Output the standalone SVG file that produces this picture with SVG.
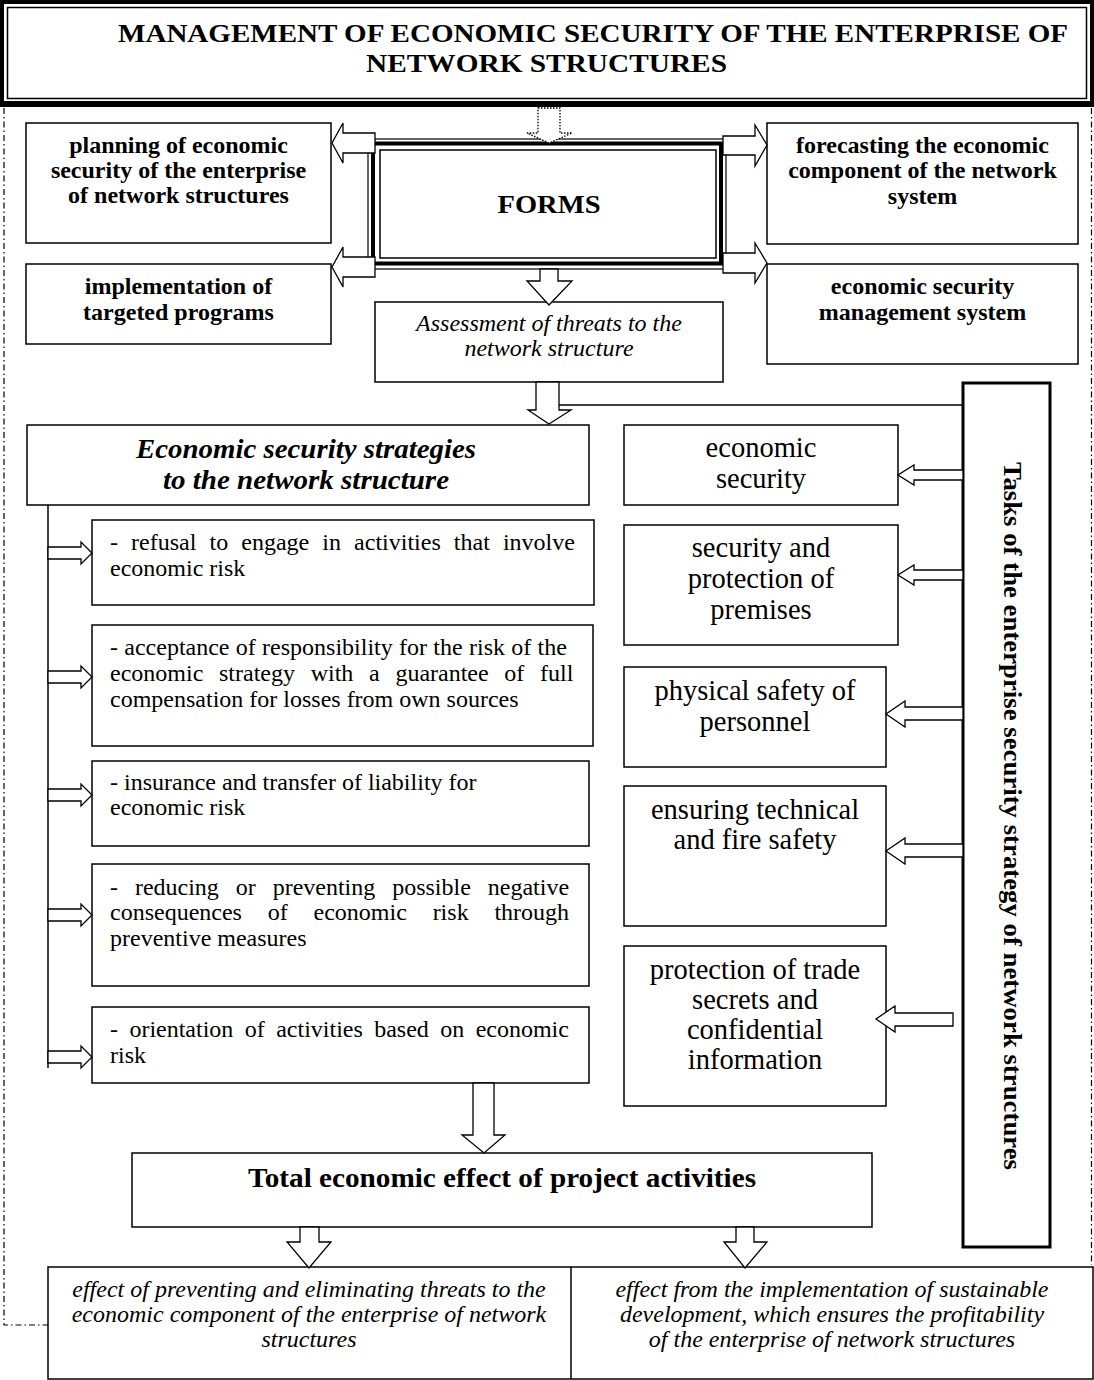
<svg xmlns="http://www.w3.org/2000/svg" width="1094" height="1380" viewBox="0 0 1094 1380">
<style>
text{font-family:"Liberation Serif","Times New Roman",serif;fill:#000}
.box{fill:#fff;stroke:#000;stroke-width:1.5}
.arr{fill:#fff;stroke:#000;stroke-width:1.3;stroke-linejoin:miter}
.b{font-weight:bold}
.i{font-style:italic}
.c{text-anchor:middle}
.hb{font-size:24px;font-weight:bold;text-anchor:middle}
.st{font-size:24px}
.tk{font-size:28.5px;text-anchor:middle}
.ef{font-size:24px;font-style:italic;text-anchor:middle}
.dash{fill:none;stroke:#000;stroke-width:1.2;stroke-dasharray:6 3 1.5 3}
</style>

<g id="frame">
<path class="dash" d="M4,108 V1325 H48"/>
<path class="dash" d="M1091.5,108 V1265"/>
</g>

<g id="title">
<rect x="0" y="0" width="1094" height="107" fill="#000"/>
<rect x="4" y="4" width="1086" height="97" fill="#fff"/>
<rect x="7.5" y="7.5" width="1079" height="91" fill="none" stroke="#000" stroke-width="1.5"/>
<text class="b" x="118" y="42" font-size="26" textLength="950" lengthAdjust="spacingAndGlyphs">MANAGEMENT OF ECONOMIC SECURITY OF THE ENTERPRISE OF</text>
<text class="b" x="366" y="72" font-size="26" textLength="361" lengthAdjust="spacingAndGlyphs">NETWORK STRUCTURES</text>
</g>

<g id="forms">
<rect x="368" y="139" width="358" height="130" fill="#fff" stroke="#000" stroke-width="1.2"/>
<rect x="373" y="143.5" width="348" height="120" fill="none" stroke="#000" stroke-width="4"/>
<rect x="380" y="150" width="336" height="108" fill="none" stroke="#000" stroke-width="1.5"/>
<text class="b c" x="549" y="213" font-size="26" textLength="103" lengthAdjust="spacingAndGlyphs">FORMS</text>
</g>

<g id="planning">
<rect class="box" x="26" y="123" width="305" height="120"/>
<text class="hb" x="178.5" y="153">planning of economic</text>
<text class="hb" x="178.5" y="178">security of the enterprise</text>
<text class="hb" x="178.5" y="203">of network structures</text>
</g>

<g id="implementation">
<rect class="box" x="26" y="264" width="305" height="80"/>
<text class="hb" x="178.5" y="294">implementation of</text>
<text class="hb" x="178.5" y="320">targeted programs</text>
</g>

<g id="forecasting">
<rect class="box" x="767" y="123" width="311" height="121"/>
<text class="hb" x="922.5" y="153">forecasting the economic</text>
<text class="hb" x="922.5" y="178">component of the network</text>
<text class="hb" x="922.5" y="204">system</text>
</g>

<g id="management-system">
<rect class="box" x="767" y="264" width="311" height="100"/>
<text class="hb" x="922.5" y="294">economic security</text>
<text class="hb" x="922.5" y="320">management system</text>
</g>

<g id="assessment">
<rect class="box" x="375" y="302" width="348" height="80"/>
<text class="i c" x="549" y="331" font-size="24">Assessment of threats to the</text>
<text class="i c" x="549" y="356" font-size="24">network structure</text>
</g>

<g id="strategies">
<rect class="box" x="27" y="425" width="562" height="80"/>
<text class="b i c" x="306" y="458" font-size="27" textLength="340" lengthAdjust="spacingAndGlyphs">Economic security strategies</text>
<text class="b i c" x="306" y="489" font-size="27" textLength="286" lengthAdjust="spacingAndGlyphs">to the network structure</text>
</g>

<g id="s1">
<rect class="box" x="92" y="520" width="502" height="85"/>
<text class="st" x="110" y="550" word-spacing="7.1">- refusal to engage in activities that involve</text>
<text class="st" x="110" y="576">economic risk</text>
</g>

<g id="s2">
<rect class="box" x="92" y="625" width="501" height="121"/>
<text class="st" x="110" y="655" word-spacing="0.3">- acceptance of responsibility for the risk of the</text>
<text class="st" x="110" y="681" word-spacing="9.7">economic strategy with a guarantee of full</text>
<text class="st" x="110" y="707">compensation for losses from own sources</text>
</g>

<g id="s3">
<rect class="box" x="92" y="761" width="497" height="85"/>
<text class="st" x="110" y="790">- insurance and transfer of liability for</text>
<text class="st" x="110" y="815">economic risk</text>
</g>

<g id="s4">
<rect class="box" x="92" y="864" width="497" height="122"/>
<text class="st" x="110" y="895" word-spacing="10.9">- reducing or preventing possible negative</text>
<text class="st" x="110" y="920" word-spacing="19.8">consequences of economic risk through</text>
<text class="st" x="110" y="946">preventive measures</text>
</g>

<g id="s5">
<rect class="box" x="92" y="1007" width="497" height="76"/>
<text class="st" x="110" y="1037" word-spacing="5.4">- orientation of activities based on economic</text>
<text class="st" x="110" y="1063">risk</text>
</g>

<g id="t1">
<rect class="box" x="624" y="425" width="274" height="80"/>
<text class="tk" x="761" y="457">economic</text>
<text class="tk" x="761" y="488">security</text>
</g>

<g id="t2">
<rect class="box" x="624" y="525" width="274" height="120"/>
<text class="tk" x="761" y="557">security and</text>
<text class="tk" x="761" y="588">protection of</text>
<text class="tk" x="761" y="619">premises</text>
</g>

<g id="t3">
<rect class="box" x="624" y="667" width="262" height="100"/>
<text class="tk" x="755" y="700">physical safety of</text>
<text class="tk" x="755" y="731">personnel</text>
</g>

<g id="t4">
<rect class="box" x="624" y="786" width="262" height="140"/>
<text class="tk" x="755" y="819">ensuring technical</text>
<text class="tk" x="755" y="849">and fire safety</text>
</g>

<g id="t5">
<rect class="box" x="624" y="946" width="262" height="160"/>
<text class="tk" x="755" y="979">protection of trade</text>
<text class="tk" x="755" y="1009">secrets and</text>
<text class="tk" x="755" y="1039">confidential</text>
<text class="tk" x="755" y="1069">information</text>
</g>

<g id="tasks">
<rect x="963" y="383" width="87" height="864" fill="#fff" stroke="#000" stroke-width="3"/>
<text class="b c" font-size="25" transform="translate(1004,816) rotate(90)" x="0" y="0" textLength="708" lengthAdjust="spacingAndGlyphs">Tasks of the enterprise security strategy of network structures</text>
</g>

<g id="total">
<rect class="box" x="132" y="1153" width="740" height="74"/>
<text class="b c" x="502" y="1187" font-size="27" textLength="508" lengthAdjust="spacingAndGlyphs">Total economic effect of project activities</text>
</g>

<g id="effects">
<rect class="box" x="48" y="1267" width="1045" height="112"/>
<line x1="571" y1="1267" x2="571" y2="1379" stroke="#000" stroke-width="1.5"/>
<text class="ef" x="309" y="1297">effect of preventing and eliminating threats to the</text>
<text class="ef" x="309" y="1322">economic component of the enterprise of network</text>
<text class="ef" x="309" y="1347">structures</text>
<text class="ef" x="832" y="1297">effect from the implementation of sustainable</text>
<text class="ef" x="832" y="1322">development, which ensures the profitability</text>
<text class="ef" x="832" y="1347">of the enterprise of network structures</text>
</g>

<g id="connectors">
<polygon class="arr" stroke-dasharray="1.5 1.5" points="538,108 560,108 560,133 572,133 549,143 527,133 538,133"/>
<polygon class="arr" points="375,133 343,133 343,123 332,143 343,163 343,153 375,153"/>
<polygon class="arr" points="375,257 343,257 343,247 332,267 343,287 343,277 375,277"/>
<polygon class="arr" points="723,136 755,136 755,125 767,145 755,166 755,155 723,155"/>
<polygon class="arr" points="723,253 755,253 755,243 767,263 755,283 755,273 723,273"/>
<polygon class="arr" points="540,269 558,269 558,281 572,281 549,305 527,281 540,281"/>
<polygon class="arr" points="536,382 559,382 559,410 571,410 549,424 528,410 536,410"/>
<line x1="559" y1="405" x2="963" y2="405" stroke="#000" stroke-width="1.3"/>
<line x1="48" y1="505" x2="48" y2="1068" stroke="#000" stroke-width="1.5"/>
<polygon class="arr" points="48,547 81,547 81,542 92,553 81,564 81,559 48,559"/>
<polygon class="arr" points="48,671 81,671 81,666 92,677 81,688 81,683 48,683"/>
<polygon class="arr" points="48,789 81,789 81,784 92,795 81,806 81,801 48,801"/>
<polygon class="arr" points="48,909 81,909 81,904 92,915 81,926 81,921 48,921"/>
<polygon class="arr" points="48,1051 81,1051 81,1046 92,1057 81,1068 81,1063 48,1063"/>
<polygon class="arr" points="963,470 914,470 914,465 898,475 914,485 914,480 963,480"/>
<polygon class="arr" points="963,570 914,570 914,565 898,575 914,585 914,580 963,580"/>
<polygon class="arr" points="963,707 905,707 905,701 886,714 905,727 905,720 963,720"/>
<polygon class="arr" points="963,844 905,844 905,838 886,851 905,864 905,857 963,857"/>
<polygon class="arr" points="953,1013 895,1013 895,1006 876,1019 895,1032 895,1026 953,1026"/>
<polygon class="arr" points="473,1083 494,1083 494,1135 505,1135 484,1153 462,1135 473,1135"/>
<polygon class="arr" points="300,1227 319,1227 319,1242 331,1242 309,1268 287,1242 300,1242"/>
<polygon class="arr" points="736,1227 754,1227 754,1242 767,1242 745,1268 724,1242 736,1242"/>
</g>
</svg>
